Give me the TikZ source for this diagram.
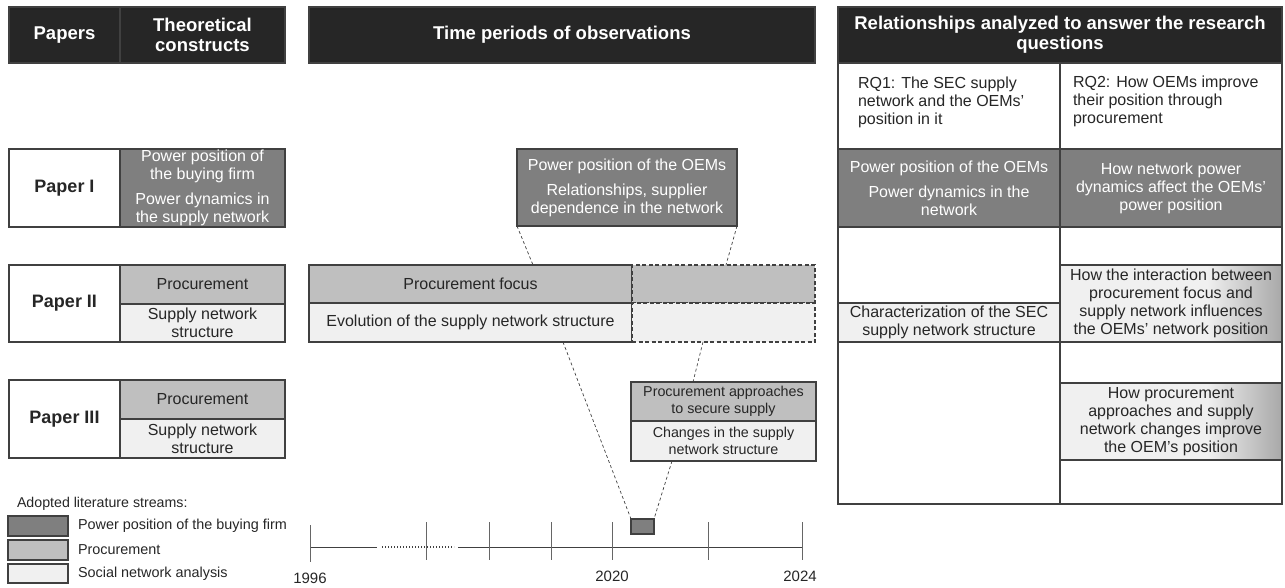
\documentclass[tikz,border=0pt]{standalone}
\usepackage{fontspec}
\setmainfont{Liberation Sans}
\usetikzlibrary{calc}

\definecolor{hdrblack}{HTML}{262626}
\definecolor{dkgray}{HTML}{7F7F7F}
\definecolor{mdgray}{HTML}{BFBFBF}
\definecolor{ltgray}{HTML}{F0F0F0}
\definecolor{edge}{HTML}{404040}
\definecolor{inktext}{HTML}{262626}
\definecolor{gradgray}{HTML}{A8A8A8}
\pgfdeclarehorizontalshading{fadegray}{100bp}{color(0bp)=(ltgray); color(58bp)=(ltgray); color(75bp)=(gradgray); color(100bp)=(gradgray)}

\newcommand\bodyfont{\fontsize{16}{18}\selectfont}
\newcommand\smallbody{\fontsize{14.3}{16.5}\selectfont}
\newcommand\hdrfont{\bfseries\fontsize{18.5}{20}\selectfont}
\newcommand\paperfont{\bfseries\fontsize{18}{20}\selectfont}

% \cellbox{name}{x1}{y1}{x2}{y2}{style}{text}
\newcommand\cellbox[7]{\node[#6, minimum width={#4-#2}, minimum height={#5-#3}] (#1) at ({(#2+#4)/2},{(#3+#5)/2}) {#7};}

\tikzset{
  every node/.style={inner sep=0pt, outer sep=0pt, align=center, text=inktext},
  box/.style={draw=edge, line width=1.1pt, font=\bodyfont},
  hdr/.style={box, fill=hdrblack, text=white, font=\hdrfont},
  dk/.style={box, fill=dkgray, text=white},
  md/.style={box, fill=mdgray},
  lt/.style={box, fill=ltgray},
  wt/.style={box, fill=white},
  grad/.style={box, shading=fadegray},
  dashbox/.style={dashed, dash pattern=on 4pt off 2.5pt},
  conn/.style={draw=edge, line width=0.7pt, dash pattern=on 3pt off 2.5pt},
  axis/.style={draw=edge, line width=1pt},
  tick/.style={draw=edge!80, line width=1pt},
  yearlbl/.style={font=\fontsize{15}{17}\selectfont},
  legendlbl/.style={anchor=west, font=\fontsize{14.4}{16}\selectfont},
}

\begin{document}
\begin{tikzpicture}[x=1pt, y=-1pt]
\useasboundingbox (0,0) rectangle (1285,587);

% ---- column headers
\cellbox{hpapers}{9}{7}{120}{63}{hdr}{Papers}
\cellbox{hconstr}{120}{7}{285}{63}{hdr}{Theoretical\\constructs}
\cellbox{htime}{309}{7}{815}{63}{hdr}{Time periods of observations}
\cellbox{hrel}{838}{7}{1282}{63}{hdr}{Relationships analyzed to answer the research\\questions}

% ---- papers and their theoretical constructs
\cellbox{p1}{9}{149}{120}{227}{wt, font=\paperfont}{Paper I}
\cellbox{p1c}{120}{149}{285}{227}{dk}{Power position of\\the buying firm\\[7pt]Power dynamics in\\the supply network}

\cellbox{p2}{9}{265}{120}{342}{wt, font=\paperfont}{Paper II}
\cellbox{p2a}{120}{265}{285}{304}{md}{Procurement}
\cellbox{p2b}{120}{304}{285}{342}{lt}{Supply network\\structure}

\cellbox{p3}{9}{380}{120}{458}{wt, font=\paperfont}{Paper III}
\cellbox{p3a}{120}{380}{285}{419}{md}{Procurement}
\cellbox{p3b}{120}{419}{285}{458}{lt}{Supply network\\structure}

% ---- observation periods
\cellbox{oem}{517}{149}{737}{226}{dk}{Power position of the OEMs\\[7pt]Relationships, supplier\\dependence in the network}
\cellbox{pf}{309}{265}{632}{303}{md}{Procurement focus}
\cellbox{evo}{309}{303}{632}{342}{lt}{Evolution of the supply network structure}
\cellbox{pfx}{632}{265}{815}{303}{md, dashbox}{}
\cellbox{evox}{632}{303}{815}{342}{lt, dashbox}{}
\cellbox{pa}{631}{382}{816}{421}{md, font=\smallbody}{Procurement approaches\\to secure supply}
\cellbox{cs}{631}{421}{816}{461}{lt, font=\smallbody}{Changes in the supply\\network structure}

% ---- timeline
\coordinate (t0) at (310,547);
\coordinate (t1) at (426,547);
\coordinate (t2) at (489,547);
\coordinate (t3) at (551,547);
\coordinate (t4) at (612,547);
\coordinate (t5) at (708,547);
\coordinate (t6) at (802,547);
\draw[axis] (t0) -- (377,547);
\draw[axis, dotted, line width=1.2pt] (382,547) -- (454,547);
\draw[axis] (458,547) -- (t6);
\draw[tick] ($(t0)+(0,-22)$) -- ($(t0)+(0,15)$);
\foreach \t in {t1,t2,t3,t4,t5,t6}
  \draw[tick] ($(\t)+(0,-25)$) -- ($(\t)+(0,13)$);
\node[yearlbl] (y1996) at (310,578) {1996};
\node[yearlbl] (y2020) at (612,576) {2020};
\node[yearlbl] (y2024) at (800,576) {2024};
\cellbox{sb}{631}{519}{654}{534}{dk}{}

% ---- dashed zoom connectors
\coordinate (pfL) at (533,265);
\coordinate (pfR) at (726,265);
\coordinate (evoC) at (563,342);
\coordinate (pxC) at (703,342);
\coordinate (paT) at (693,382);
\coordinate (csB) at (672,461);
\draw[conn] (oem.south west) -- (pfL);
\draw[conn] (oem.south east) -- (pfR);
\draw[conn] (pxC) -- (paT);
\draw[conn] (evoC) -- (sb.north west);
\draw[conn] (csB) -- (sb.north east);

% ---- research question table
\cellbox{rq1}{838}{63}{1060}{149}{wt}{}
\cellbox{rq2}{1060}{63}{1282}{149}{wt}{}
\node[anchor=north west, align=left, font=\bodyfont] (rq1t) at (858,77) {RQ1: The SEC supply\\network and the OEMs'\\position in it};
\node[anchor=north west, align=left, font=\bodyfont] (rq2t) at (1073,76) {RQ2: How OEMs improve\\their position through\\procurement};
\cellbox{pw1}{838}{149}{1060}{227}{dk}{Power position of the OEMs\\[7pt]Power dynamics in the\\network}
\cellbox{pw2}{1060}{149}{1282}{227}{dk}{How network power\\dynamics affect the OEMs'\\power position}
\cellbox{lc1}{838}{227}{1060}{303}{wt}{}
\cellbox{char}{838}{303}{1060}{342}{lt}{Characterization of the SEC\\supply network structure}
\cellbox{lc2}{838}{342}{1060}{504}{wt}{}
\cellbox{rc1}{1060}{227}{1282}{265}{wt}{}
\cellbox{how1}{1060}{265}{1282}{342}{grad}{How the interaction between\\procurement focus and\\supply network influences\\the OEMs' network position}
\cellbox{rc2}{1060}{342}{1282}{383}{wt}{}
\cellbox{how2}{1060}{383}{1282}{460}{grad}{How procurement\\approaches and supply\\network changes improve\\the OEM's position}
\cellbox{rc3}{1060}{460}{1282}{504}{wt}{}

% ---- legend
\node[anchor=west, font=\fontsize{14.2}{16}\selectfont] (legtitle) at (17,504) {Adopted literature streams:};
\cellbox{sw1}{8}{516}{68}{536}{dk}{}
\cellbox{sw2}{8}{540}{68}{560}{md}{}
\cellbox{sw3}{8}{564}{68}{583}{lt}{}
\node[legendlbl] (lg1) at (78,526) {Power position of the buying firm};
\node[legendlbl] (lg2) at (78,550) {Procurement};
\node[legendlbl] (lg3) at (78,574) {Social network analysis};
\end{tikzpicture}
\end{document}
